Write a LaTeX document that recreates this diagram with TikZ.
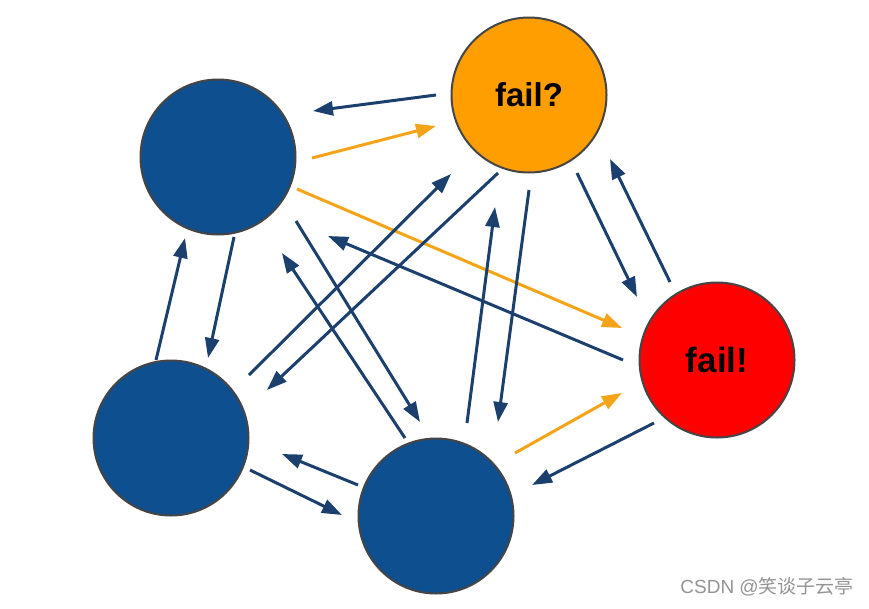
\documentclass[tikz,border=0pt]{standalone}
\usepackage{fontspec}
\setmainfont{Liberation Sans}
\newfontfamily\cjk{Noto Sans CJK SC}
\usetikzlibrary{arrows.meta,calc}
\definecolor{peerblue}{HTML}{0E4F8F}
\definecolor{linkblue}{HTML}{1B406E}
\definecolor{suspect}{HTML}{FF9E00}
\definecolor{warnline}{HTML}{F5A318}
\definecolor{rim}{HTML}{454545}
\begin{document}
\begin{tikzpicture}[x=1pt,y=-1pt]
\tikzstyle{every node}+=[inner sep=0pt]
\tikzstyle{peer}=[circle, draw=rim, line width=2pt, minimum size=155pt, fill=peerblue]
\tikzstyle{msg}=[draw=linkblue, line width=3pt, -{Triangle[length=20pt,width=14pt]}]
\tikzstyle{warn}=[msg, draw=warnline]
\useasboundingbox (0,0) rectangle (869,608);
\node [peer] (A) at (218,157) {};
\node [peer, fill=suspect] (B) at (529,95) {\fontsize{33}{40}\selectfont\bfseries fail?};
\node [peer, fill=red] (C) at (717,360) {\fontsize{35}{40}\selectfont\bfseries fail!};
\node [peer] (D) at (171,438) {};
\node [peer] (E) at (436,516) {};
% A and B
\draw [msg] ($(B)+(-93,0)$) -- ($(A)+(95,-46)$);
\draw [warn] ($(A)+(94,1)$) -- ($(B)+(-93,31)$);
% A and C
\draw [warn] ($(A)+(79,32)$) -- ($(C)+(-95,-32)$);
\draw [msg] ($(C)+(-94,0)$) -- ($(A)+(110,79)$);
% A and D
\draw [msg] ($(D)+(-15,-78)$) -- ($(A)+(-33,81)$);
\draw [msg] ($(A)+(16,80)$) -- ($(D)+(37,-80)$);
% A and E
\draw [msg] ($(A)+(78,64)$) -- ($(E)+(-16,-94)$);
\draw [msg] ($(E)+(-31,-78)$) -- ($(A)+(64,96)$);
% B and D
\draw [msg] ($(D)+(78,-63)$) -- ($(B)+(-78,79)$);
\draw [msg] ($(B)+(-31,78)$) -- ($(D)+(96,-48)$);
% B and E
\draw [msg] ($(E)+(31,-93)$) -- ($(B)+(-34,112)$);
\draw [msg] ($(B)+(0,95)$) -- ($(E)+(62,-94)$);
% B and C
\draw [msg] ($(B)+(48,78)$) -- ($(C)+(-80,-63)$);
\draw [msg] ($(C)+(-47,-78)$) -- ($(B)+(81,64)$);
% C and E
\draw [warn] ($(E)+(79,-63)$) -- ($(C)+(-95,33)$);
\draw [msg] ($(C)+(-63,63)$) -- ($(E)+(96,-31)$);
% D and E
\draw [msg] ($(E)+(-78,-31)$) -- ($(D)+(111,16)$);
\draw [msg] ($(D)+(79,32)$) -- ($(E)+(-94,-1)$);
\node [anchor=east, text=gray!85] (mark) at (854,587) {\fontsize{19}{22}\selectfont CSDN @\cjk 笑谈子云亭};
\end{tikzpicture}
\end{document}
